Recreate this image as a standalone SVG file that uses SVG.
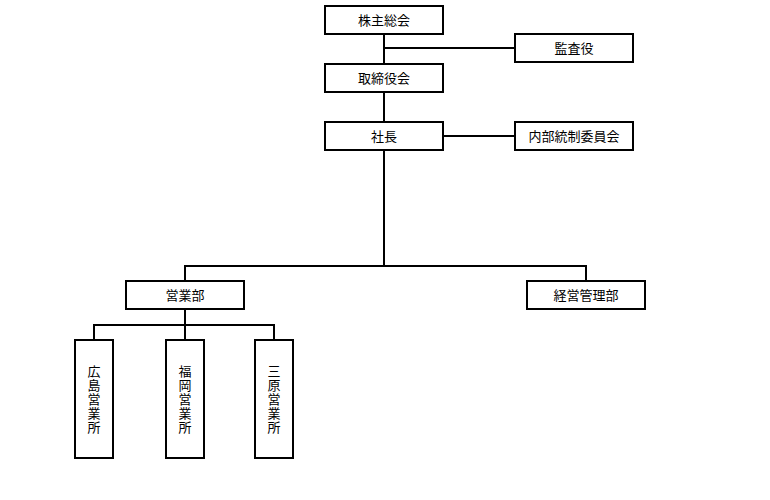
<svg xmlns="http://www.w3.org/2000/svg" width="770" height="500" viewBox="0 0 770 500">
<style>
rect{fill:#fff;stroke:#000;stroke-width:2}
line,path{stroke:#000;stroke-width:2;fill:none}
text{font-family:"Noto Sans CJK JP",sans-serif;font-size:13px;text-anchor:middle;fill:#000}
.v{writing-mode:vertical-rl;letter-spacing:1px}
</style>
<rect width="770" height="500" style="stroke:none"/>
<g id="connectors">
<line x1="384" y1="34" x2="384" y2="64"/>
<line x1="384" y1="48" x2="515" y2="48"/>
<line x1="384" y1="92" x2="384" y2="122"/>
<line x1="443" y1="136" x2="515" y2="136"/>
<line x1="384" y1="150" x2="384" y2="266"/>
<path d="M185 281V266H586V281"/>
<line x1="185" y1="309" x2="185" y2="340"/>
<path d="M94 340V325H274V340"/>
</g>
<g id="n1"><rect x="325" y="6" width="118" height="28"/><text x="384" y="25">株主総会</text></g>
<g id="n2"><rect x="515" y="34" width="118" height="28"/><text x="574" y="53">監査役</text></g>
<g id="n3"><rect x="325" y="64" width="118" height="28"/><text x="384" y="83">取締役会</text></g>
<g id="n4"><rect x="325" y="122" width="118" height="28"/><text x="384" y="141">社長</text></g>
<g id="n5"><rect x="515" y="122" width="118" height="28"/><text x="574" y="141">内部統制委員会</text></g>
<g id="n6"><rect x="126" y="281" width="118" height="28"/><text x="185" y="300">営業部</text></g>
<g id="n7"><rect x="527" y="281" width="118" height="28"/><text x="586" y="300">経営管理部</text></g>
<g id="n8"><rect x="75" y="340" width="38" height="118"/><text class="v" x="94" y="400">広島営業所</text></g>
<g id="n9"><rect x="166" y="340" width="38" height="118"/><text class="v" x="185" y="400">福岡営業所</text></g>
<g id="n10"><rect x="255" y="340" width="38" height="118"/><text class="v" x="274" y="400">三原営業所</text></g>
</svg>
